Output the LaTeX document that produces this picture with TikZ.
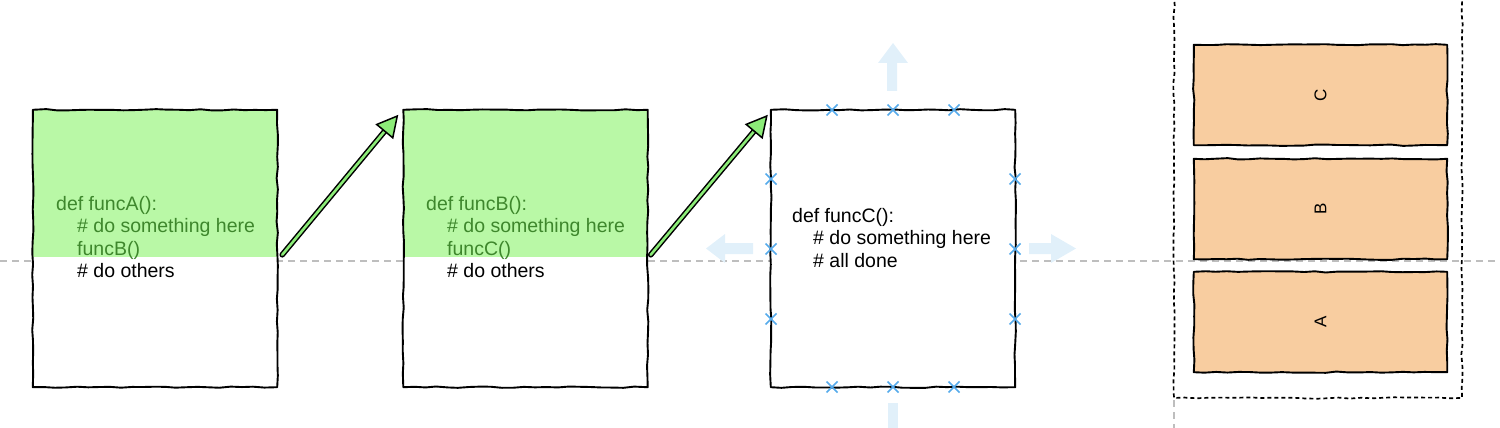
\documentclass[tikz,border=0pt]{standalone}
\usepackage{fontspec}
\setmainfont{Liberation Sans}
\usetikzlibrary{calc,arrows.meta,decorations.pathmorphing,shapes.misc}
\definecolor{fillgreen}{RGB}{185,248,166}
\definecolor{codegreen}{RGB}{62,135,44}
\definecolor{arrowgreen}{RGB}{140,236,120}
\definecolor{lightblue}{RGB}{225,240,250}
\definecolor{xblue}{RGB}{85,170,235}
\definecolor{orangefill}{RGB}{248,205,160}
\definecolor{guide}{RGB}{190,190,190}
\tikzset{
  sketch/.style={decorate, decoration={random steps, segment length=11pt, amplitude=0.7pt}, line join=round},
  boxbase/.style={rectangle, inner sep=0pt, minimum width=244pt, minimum height=277pt, fill=white},
  border/.style={sketch, draw=black, line width=1.9pt},
  codeline/.style={anchor=base west, inner sep=0pt, font=\fontsize{19.5pt}{22pt}\selectfont},
  xmark/.style={cross out, draw=xblue, line width=1.5pt, minimum size=9.5pt, inner sep=0pt},
  orangebox/.style={rectangle, inner sep=0pt, minimum width=253pt, minimum height=100pt, fill=orangefill},
  stacklabel/.style={rotate=90, font=\fontsize{17pt}{19pt}\selectfont},
  guideline/.style={draw=guide, line width=1.3pt, dash pattern=on 7pt off 5pt},
  shaft/.style={line width=1.5pt, double=arrowgreen, double distance=2.6pt, line cap=round},
  head/.style={line width=1.5pt, line join=miter, -{Triangle[length=22pt, width=23pt, fill=arrowgreen]}},
}
\begin{document}
\begin{tikzpicture}[x=1pt, y=-1pt]
\pgfmathsetseed{11}
\useasboundingbox (0,0) rectangle (1500,428);

% guide lines
\draw[guideline] (0,261) -- (1500,261);
\draw[guideline] (1174,400) -- (1174,428);

% boxes
\node[boxbase] (A) at (155,248.5) {};
\node[boxbase] (B) at (525.5,248.5) {};
\node[boxbase] (C) at (893,248.5) {};
\fill[fillgreen] (A.north west) rectangle ($(A.north east)+(0,147)$);
\fill[fillgreen] (B.north west) rectangle ($(B.north east)+(0,147)$);
\draw[border] (A.north west) rectangle (A.south east);
\draw[border] (B.north west) rectangle (B.south east);
\draw[border] (C.north west) rectangle (C.south east);

% code texts
\node[codeline, text=codegreen] (a1) at (56,210) {def funcA():};
\node[codeline, text=codegreen] (a2) at (77,232.5) {\# do something here};
\node[codeline, text=codegreen] (a3) at (77,255) {funcB()};
\node[codeline] (a4) at (77,277) {\# do others};
\node[codeline, text=codegreen] (b1) at (426,210) {def funcB():};
\node[codeline, text=codegreen] (b2) at (447,232.5) {\# do something here};
\node[codeline, text=codegreen] (b3) at (447,255) {funcC()};
\node[codeline] (b4) at (447,277) {\# do others};
\node[codeline] (c1) at (792,222) {def funcC():};
\node[codeline] (c2) at (813,244.5) {\# do something here};
\node[codeline] (c3) at (813,267) {\# all done};

% green arrows
\coordinate (s1) at ($(A.north east)+(5,145)$);
\coordinate (t1) at ($(B.north west)+(-5,5)$);
\coordinate (s2) at ($(B.north east)+(3,145)$);
\coordinate (t2) at ($(C.north west)+(-3,5)$);
\draw[shaft, shorten >=18pt] (s1) -- (t1);
\draw[head] ($(t1)!21pt!(s1)$) -- (t1);
\draw[shaft, shorten >=18pt] (s2) -- (t2);
\draw[head] ($(t2)!21pt!(s2)$) -- (t2);

% light blue resize arrows
\fill[lightblue] (887,91) -- (887,63) -- (878,63) -- (893,43) -- (908,63) -- (897,63) -- (897,91) -- cycle;
\fill[lightblue] (888,403) rectangle (898,428);
\fill[lightblue] (753,243) -- (725,243) -- (725,234) -- (706,248.5) -- (725,263) -- (725,254) -- (753,254) -- cycle;
\fill[lightblue] (1029,243) -- (1051,243) -- (1051,234) -- (1076,248.5) -- (1051,263) -- (1051,254) -- (1029,254) -- cycle;

% blue x marks
\node[xmark] (xt1) at (832,110) {};
\node[xmark] (xt2) at (893,110) {};
\node[xmark] (xt3) at (954,110) {};
\node[xmark] (xb1) at (832,387) {};
\node[xmark] (xb2) at (893,387) {};
\node[xmark] (xb3) at (954,387) {};
\node[xmark] (xl1) at (771,179) {};
\node[xmark] (xl2) at (771,249) {};
\node[xmark] (xl3) at (771,319) {};
\node[xmark] (xr1) at (1015,179) {};
\node[xmark] (xr2) at (1015,249) {};
\node[xmark] (xr3) at (1015,319) {};

% right stack
\draw[sketch, line width=1.7pt, dash pattern=on 4pt off 3pt] (1174,-5) -- (1174,398) -- (1462,398) -- (1462,-5);
\node[orangebox] (SC) at (1320.5,95) {};
\node[orangebox] (SB) at (1320.5,209) {};
\node[orangebox] (SA) at (1320.5,322) {};
\draw[border] (SC.north west) rectangle (SC.south east);
\draw[border] (SB.north west) rectangle (SB.south east);
\draw[border] (SA.north west) rectangle (SA.south east);
\node[stacklabel] (lc) at (SC.center) {C};
\node[stacklabel] (lb) at (SB.center) {B};
\node[stacklabel] (la) at (SA.center) {A};
\end{tikzpicture}
\end{document}
